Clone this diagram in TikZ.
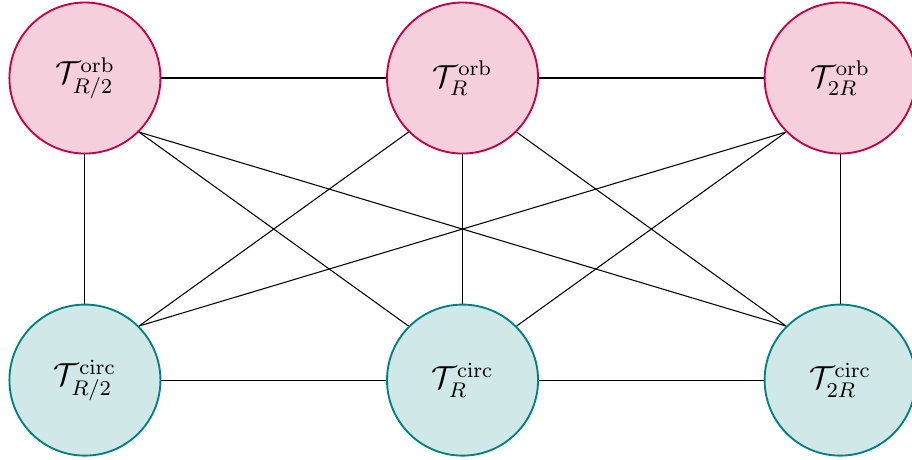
\documentclass[tikz,border=0pt]{standalone}
\usepackage{amsmath}
\definecolor{orbline}{RGB}{196,0,72}
\definecolor{orbfill}{RGB}{245,208,220}
\definecolor{circline}{RGB}{0,128,128}
\definecolor{circfill}{RGB}{208,232,232}
\tikzset{
  orbnode/.style={circle, draw=orbline, fill=orbfill, line width=0.7pt, minimum size=2cm, inner sep=0pt, font=\large},
  circnode/.style={circle, draw=circline, fill=circfill, line width=0.7pt, minimum size=2cm, inner sep=0pt, font=\large},
  link/.style={draw=black, line width=0.4pt}
}
\begin{document}
\begin{tikzpicture}
\useasboundingbox (-32pt,29.4pt) rectangle (311.6pt,-143.6pt);
\node[orbnode] (o1) at (0,0) {$\mathcal{T}^{\mathrm{orb}}_{R/2}$};
\node[orbnode] (o2) at (5,0) {$\mathcal{T}^{\mathrm{orb}}_{R}$};
\node[orbnode] (o3) at (10,0) {$\mathcal{T}^{\mathrm{orb}}_{2R}$};
\node[circnode] (c1) at (0,-4) {$\mathcal{T}^{\mathrm{circ}}_{R/2}$};
\node[circnode] (c2) at (5,-4) {$\mathcal{T}^{\mathrm{circ}}_{R}$};
\node[circnode] (c3) at (10,-4) {$\mathcal{T}^{\mathrm{circ}}_{2R}$};
\draw[link] (o1) -- (o2);
\draw[link] (o2) -- (o3);
\draw[link] (c1) -- (c2);
\draw[link] (c2) -- (c3);
\draw[link] (o1) -- (c1);
\draw[link] (o2) -- (c2);
\draw[link] (o3) -- (c3);
\draw[link] (o1.south east) -- (c2.north west);
\draw[link] (o1.south east) -- (c3.north west);
\draw[link] (o2.south west) -- (c1.north east);
\draw[link] (o2.south east) -- (c3.north west);
\draw[link] (o3.south west) -- (c1.north east);
\draw[link] (o3.south west) -- (c2.north east);
\end{tikzpicture}
\end{document}
